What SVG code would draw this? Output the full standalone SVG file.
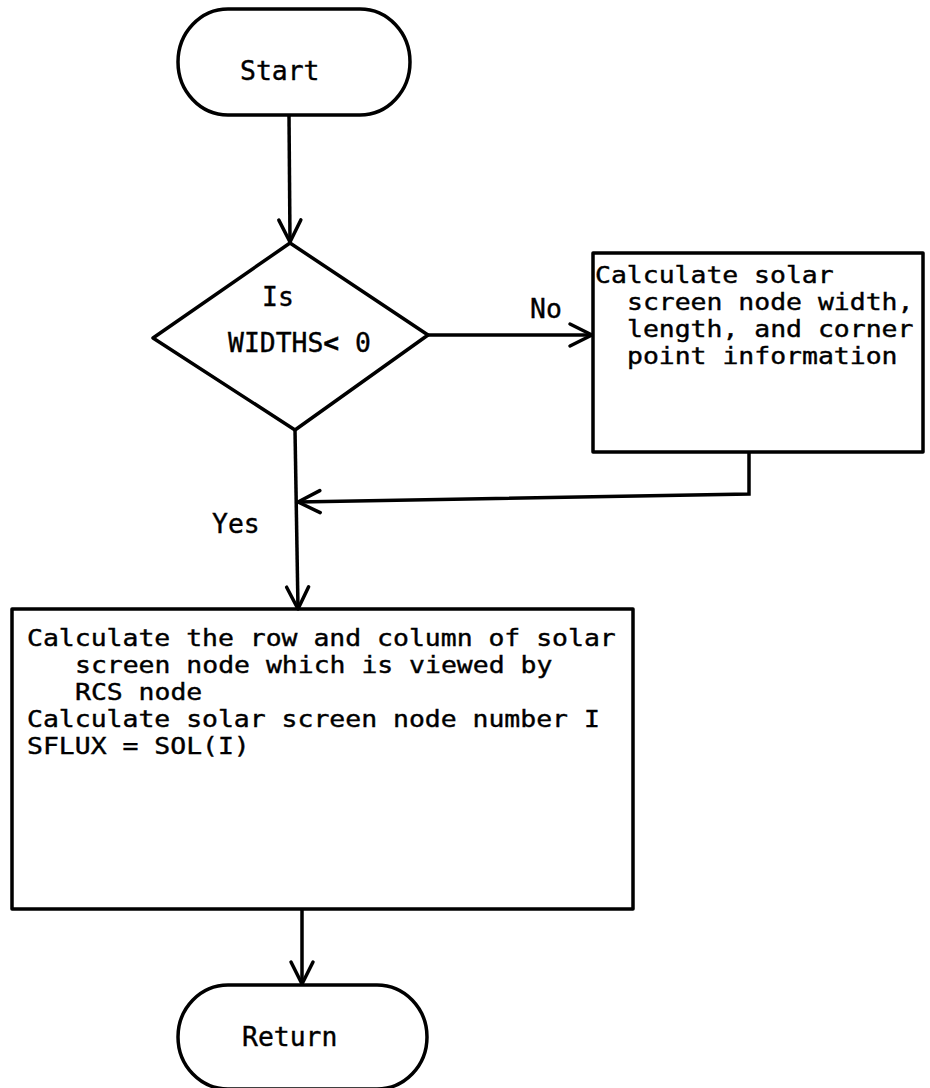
<svg xmlns="http://www.w3.org/2000/svg" width="930" height="1088" viewBox="0 0 930 1088">
  <style>
    .shape { fill: none; stroke: #000; stroke-width: 3.5; stroke-linejoin: round; }
    .wire { fill: none; stroke: #000; stroke-width: 3.5; }
    .lbl { font-family: "DejaVu Sans Mono", "Liberation Mono", monospace; font-size: 26.4px; fill: #000; stroke: #000; stroke-width: 0.4; }
    /* multi-line box text: smaller face, stretched to the same 15.9px character pitch */
    .box { font-family: "DejaVu Sans Mono", "Liberation Mono", monospace; font-size: 23px; fill: #000; stroke: #000; stroke-width: 0.4; }
  </style>
  <defs>
    <!-- open V arrowhead used on every connector -->
    <marker id="arrow" markerUnits="userSpaceOnUse" viewBox="-26 -14 30 28" refX="0" refY="0" markerWidth="30" markerHeight="28" orient="auto" overflow="visible">
      <path d="M-22,-11 L0,0 L-22,11" fill="none" stroke="#000" stroke-width="3.5" stroke-linecap="round" stroke-linejoin="round"/>
    </marker>
  </defs>
  <rect width="930" height="1088" fill="#fff"/>

  <g id="connectors">
    <path class="wire" d="M289,115 L290,242" marker-end="url(#arrow)"/>
    <path class="wire" d="M428,335 L592,335" marker-end="url(#arrow)"/>
    <path class="wire" d="M749,452 L749,494 L298,502" marker-end="url(#arrow)"/>
    <path class="wire" d="M295,430 L298,609" marker-end="url(#arrow)"/>
    <path class="wire" d="M302,909 L302,984" marker-end="url(#arrow)"/>
    <text class="lbl" x="530" y="318">No</text>
    <text class="lbl" x="212" y="533">Yes</text>
  </g>

  <g id="start">
    <rect class="shape" x="178" y="9" width="232" height="106" rx="50" ry="53"/>
    <text class="lbl" x="240" y="80">Start</text>
  </g>

  <g id="decision">
    <polygon class="shape" points="290,243 428,335 295,430 153,338"/>
    <text class="lbl" x="262" y="306">Is</text>
    <text class="lbl" x="228" y="352">WIDTHS<tspan font-weight="bold">&lt;</tspan> 0</text>
  </g>

  <g id="screen-geometry">
    <rect class="shape" x="593" y="253" width="330" height="199"/>
    <g transform="scale(1.15,1)">
      <text class="box" x="517.4" y="283">Calculate solar</text>
      <text class="box" x="545.2" y="310">screen node width,</text>
      <text class="box" x="545.2" y="337">length, and corner</text>
      <text class="box" x="545.2" y="364">point information</text>
    </g>
  </g>

  <g id="flux-lookup">
    <rect class="shape" x="12" y="609" width="621" height="300"/>
    <g transform="scale(1.15,1)">
      <text class="box" x="23.5" y="646">Calculate the row and column of solar</text>
      <text class="box" x="65.2" y="673">screen node which is viewed by</text>
      <text class="box" x="65.2" y="700">RCS node</text>
      <text class="box" x="23.5" y="727">Calculate solar screen node number I</text>
      <text class="box" x="23.5" y="754">SFLUX = SOL(I)</text>
    </g>
  </g>

  <g id="return">
    <rect class="shape" x="178" y="985" width="249" height="104" rx="50" ry="52"/>
    <text class="lbl" x="242" y="1046">Return</text>
  </g>
</svg>
